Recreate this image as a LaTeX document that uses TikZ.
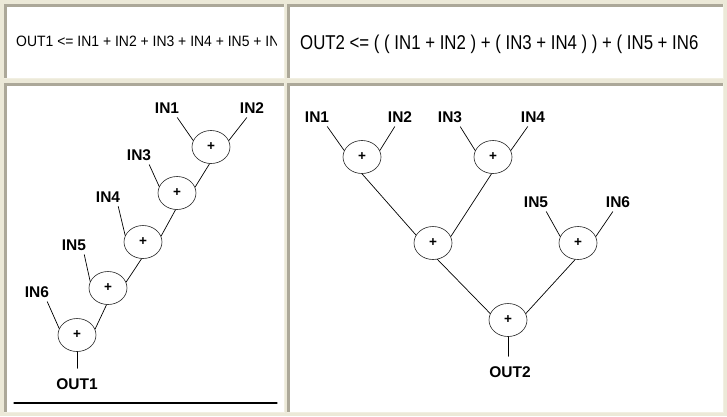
\documentclass[tikz,border=0pt]{standalone}
\usepackage{fontspec}
\setmainfont{Liberation Sans}
\usetikzlibrary{shapes.geometric}
\definecolor{pagebg}{RGB}{236,233,216}
\definecolor{celldark}{RGB}{172,168,153}
\definecolor{celllight}{RGB}{241,239,226}
\begin{document}
\begin{tikzpicture}[x=1pt,y=-1pt,line cap=round,
    adder/.style={draw=black!85,line width=0.6pt,ellipse,minimum width=38pt,
      minimum height=33pt,inner sep=0pt,font=\fontsize{13.5}{13.5}\selectfont\bfseries},
    sig/.style={font=\fontsize{15.5}{16}\selectfont\bfseries,inner sep=2pt},
    wire/.style={line width=0.7pt}]
  \useasboundingbox (0,0) rectangle (727,416);
  \fill[pagebg] (0,0) rectangle (727,416);
  \foreach \xa/\ya/\xb/\yb in {4/4/285/79,287/4/724/79,4/83/285/413,287/83/724/413}{
    \fill[celllight] (\xa,\ya) rectangle (\xb,\yb);
    \fill[celldark] (\xa,\ya) rectangle (\xb-1,\yb-1);
    \fill[white] (\xa+3,\ya+3) rectangle (\xb-1,\yb-1);
  }
  \begin{scope}
    \clip (7,7) rectangle (276,78);
    \node[anchor=base west,inner sep=0pt,font=\fontsize{15}{15}\selectfont] (eq1) at (16,46)
      {\scalebox{0.93}[1]{OUT1 <= IN1 + IN2 + IN3 + IN4 + IN5 + IN6}};
  \end{scope}
  \begin{scope}
    \clip (290,7) rectangle (702,78);
    \node[anchor=base west,inner sep=0pt,font=\fontsize{20}{20}\selectfont] (eq2) at (300,49.5)
      {\scalebox{0.84}[1]{OUT2 <= ( ( IN1 + IN2 ) + ( IN3 + IN4 ) ) + ( IN5 + IN6 )}};
  \end{scope}

  \node[sig] (li1) at (167,108) {IN1};
  \node[sig] (li2) at (252,108) {IN2};
  \node[sig] (li3) at (139,155) {IN3};
  \node[sig] (li4) at (108,197) {IN4};
  \node[sig] (li5) at (74,245) {IN5};
  \node[sig] (li6) at (37,292) {IN6};
  \node[adder] (la) at (211,147) {+};
  \node[adder] (lb) at (177,193) {+};
  \node[adder] (lc) at (143,242) {+};
  \node[adder] (ld) at (108,288) {+};
  \node[adder] (le) at (77,335) {+};
  \node[sig] (lo) at (77,384) {OUT1};

  \node[sig] (ri1) at (317,117) {IN1};
  \node[sig] (ri2) at (400,117) {IN2};
  \node[sig] (ri3) at (450,117) {IN3};
  \node[sig] (ri4) at (533,117) {IN4};
  \node[sig] (ri5) at (536,202) {IN5};
  \node[sig] (ri6) at (618,202) {IN6};
  \node[adder] (ra) at (362,157) {+};
  \node[adder] (rb) at (493,157) {+};
  \node[adder] (rc) at (433,243) {+};
  \node[adder] (rd) at (578,243) {+};
  \node[adder] (re) at (508,320) {+};
  \node[sig] (ro) at (510,372) {OUT2};

  \foreach \lab/\add in {li1/la,li3/lb,li4/lc,li5/ld,li6/le,ri1/ra,ri3/rb,ri5/rd}
    \draw[wire] ([xshift=-4pt,yshift=-2pt]\lab.south east) -- (\add.160);
  \foreach \lab/\add in {li2/la,ri2/ra,ri4/rb,ri6/rd}
    \draw[wire] ([xshift=9pt,yshift=-2pt]\lab.south west) -- (\add.20);
  \foreach \from/\to in {la/lb,lb/lc,lc/ld,ld/le}
    \draw[wire] (\from.265) -- (\to.18);
  \draw[wire] (le.south) -- ([yshift=8pt]le.south |- lo.north);

  \draw[wire] (ra.south) -- (rc.155);
  \draw[wire] (rb.265) -- (rc.20);
  \draw[wire] (rc.285) -- (re.160);
  \draw[wire] (rd.260) -- (re.20);
  \draw[wire] (re.south) -- ([yshift=8pt]re.south |- ro.north);

  \draw[line width=1.3pt] (14,403) -- (277,403);
\end{tikzpicture}
\end{document}
